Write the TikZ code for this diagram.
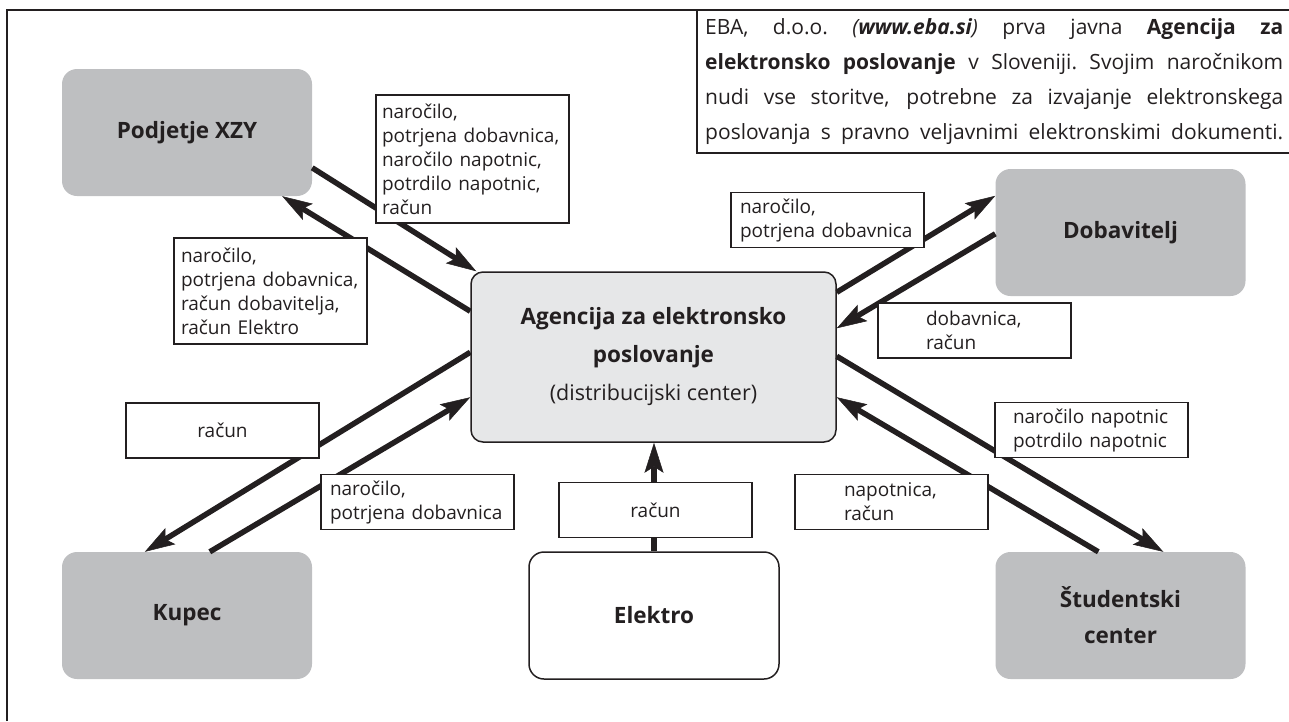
\documentclass[tikz,border=0pt]{standalone}
\usepackage{fontspec}
\setmainfont{Open Sans}
\usetikzlibrary{arrows.meta,calc}
\definecolor{boxgray}{RGB}{190,191,193}
\definecolor{centergray}{RGB}{230,231,232}
\definecolor{ink}{RGB}{35,31,32}

\begin{document}
\begin{tikzpicture}[x=1pt,y=-1pt,
    party/.style={fill=boxgray,rounded corners=15pt,minimum width=250pt,minimum height=127pt,align=center,text=ink,font=\fontsize{22.5}{36}\selectfont\bfseries},
    lbl/.style={draw=ink,line width=1.3pt,fill=white,minimum width=193pt,minimum height=55pt,text width=181pt,inner xsep=6pt,inner ysep=3pt,align=left,text=ink,font=\fontsize{19}{24}\selectfont},
    flow/.style={draw=ink,line width=5.5pt,-{Stealth[length=30pt,width=19pt,inset=6pt,line width=0.5pt]}}]
    \useasboundingbox (0,0) rectangle (1289,721);
    \draw[ink,line width=2pt] (7,721)--(7,10)--(1289,10);
    \draw[ink,line width=2pt] (697,10)--(697,153)--(1289,153);
    \node[anchor=base west,inner sep=0pt,text width=578pt,text=ink,font=\fontsize{21}{35}\selectfont] (eba) at (705,34)
        {\spaceskip=.26em plus 1fil minus .05em\xspaceskip=\spaceskip
         \makebox[578pt][s]{EBA, d.o.o. \textit{(\textbf{www.eba.si})} prva javna \textbf{Agencija za}}\\
         \makebox[578pt][s]{\textbf{elektronsko poslovanje} v Sloveniji. Svojim naročnikom}\\
         \makebox[578pt][s]{nudi vse storitve, potrebne za izvajanje elektronskega}\\
         \makebox[578pt][s]{poslovanja s pravno veljavnimi elektronskimi dokumenti.}};

    \node[party] (pod) at (187,132.5) {Podjetje XZY};
    \node[party] (dob) at (1120.5,232.5) {Dobavitelj};
    \node[party] (kup) at (187,615.5) {Kupec};
    \node[party,fill=white,draw=ink,line width=1.5pt] (ele) at (654,615.5) {Elektro};
    \node[party] (stu) at (1120.5,615.5) {Študentski\\center};
    \node[draw=ink,line width=1.5pt,fill=centergray,rounded corners=12pt,minimum width=365pt,minimum height=170pt,align=center,text=ink,font=\fontsize{22.5}{38}\selectfont] (agn) at (653.5,357)
        {\textbf{Agencija za elektronsko}\\\textbf{poslovanje}\\{\fontsize{21.5}{38}\selectfont(distribucijski center)}};

    \draw[flow] ($(pod.north east)+(0,99)$) -- ($(agn.north west)+(6,0)$);
    \draw[flow] ($(agn.north west)+(0,40)$) -- ($(pod.south east)+(-30,0)$);
    \draw[flow] ($(agn.north west)+(0,81)$) -- ($(kup.north west)+(83,0)$);
    \draw[flow] ($(kup.north west)+(148,0)$) -- ($(agn.north west)+(0,126)$);
    \draw[flow] (ele.north) -- (ele.north |- agn.south);
    \draw[flow] ($(agn.north east)+(0,21)$) -- ($(dob.north west)+(0,27)$);
    \draw[flow] ($(dob.north west)+(0,65)$) -- ($(agn.north east)+(0,57)$);
    \draw[flow] ($(agn.north east)+(0,85)$) -- ($(stu.north west)+(168,0)$);
    \draw[flow] ($(stu.north west)+(103,0)$) -- ($(agn.north east)+(0,126)$);

    \node[lbl,minimum height=128pt] (l1) at (472.5,159) {naročilo,\\potrjena dobavnica,\\naročilo napotnic,\\potrdilo napotnic,\\račun};
    \node[lbl,minimum height=106pt,inner xsep=7pt,text width=179pt] (l2) at (270.5,291) {naročilo,\\potrjena dobavnica,\\račun dobavitelja,\\račun Elektro};
    \node[lbl,align=center] (l3) at (222.5,430.5) {račun};
    \node[lbl,inner xsep=9pt,text width=175pt] (l4) at (417.5,502) {naročilo,\\potrjena dobavnica};
    \node[lbl,align=center] (l5) at (655.5,510) {račun};
    \node[lbl,inner xsep=9pt,text width=175pt] (l6) at (827.5,220) {naročilo,\\potrjena dobavnica};
    \node[lbl] (l7) at (974.5,330.5) {\hspace*{42pt}dobavnica,\\\hspace*{42pt}račun};
    \node[lbl] (l8) at (1091.5,430) {\hspace*{12pt}naročilo napotnic\\\hspace*{12pt}potrdilo napotnic};
    \node[lbl] (l9) at (891.5,502) {\hspace*{43pt}napotnica,\\\hspace*{43pt}račun};
\end{tikzpicture}
\end{document}
